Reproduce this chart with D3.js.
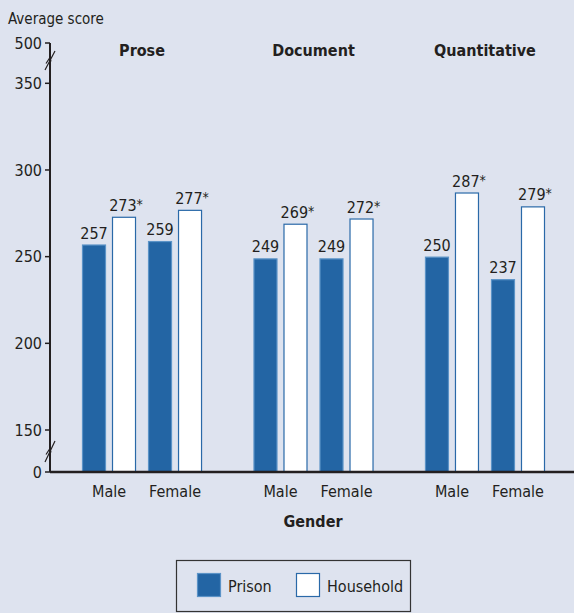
<!DOCTYPE html>
<html>
<head>
<meta charset="utf-8">
<script src="https://cdn.jsdelivr.net/npm/d3@7"></script>
<style>
  html, body { margin: 0; padding: 0; background: #dee3ef; }
  svg { display: block; }
  text { font-family: "Liberation Sans Narrow", "DejaVu Sans Condensed", sans-serif; fill: #231f20; }
</style>
</head>
<body>
<svg id="chart" width="574" height="613"></svg>
<script>
const topics = ["Prose", "Document", "Quantitative"];
const genders = ["Male", "Female"];
const series = ["Prison", "Household"];
// values per topic, [Male, Female]
const prisonScores = {Prose: [257, 259], Document: [249, 249], Quantitative: [250, 237]};
const householdScores = {Prose: [273, 277], Document: [269, 272], Quantitative: [287, 279]};
const significant = ["Household"]; // starred series
const yTicks = [0, 150, 200, 250, 300, 350, 500];

const colors = {Prison: "#2365a4", Household: "#ffffff"};
const strokes = {Prison: "#5b93c7", Household: "#2a69a8"};

const svg = d3.select("#chart");

// broken axis: 0 | 150..350 | 500
const y = d3.scaleLinear()
  .domain([0, 150, 350, 500])
  .range([472, 430, 83.3, 43]);

const x = d3.scaleBand().domain(topics).range([82, 545]).paddingInner(0.3).paddingOuter(0);
const xg = d3.scaleBand().domain(genders).range([0, x.bandwidth()]).paddingInner(12 / 66);
const xs = d3.scaleBand().domain(series).range([0, xg.bandwidth()]).paddingInner(0.2);

const rows = [];
topics.forEach(t => genders.forEach((g, gi) => {
  rows.push({topic: t, gender: g, series: "Prison", value: prisonScores[t][gi]});
  rows.push({topic: t, gender: g, series: "Household", value: householdScores[t][gi]});
}));

const bx = d => x(d.topic) + xg(d.gender) + xs(d.series);

// bars
svg.append("g").selectAll("rect")
  .data(rows)
  .join("rect")
    .attr("x", d => bx(d) + 0.5)
    .attr("y", d => y(d.value) + 0.5)
    .attr("width", xs.bandwidth() - 1)
    .attr("height", d => y(0) - y(d.value) - 0.5)
    .attr("fill", d => colors[d.series])
    .attr("stroke", d => strokes[d.series])
    .attr("stroke-width", 1.2);

// value labels
const lbl = svg.append("g").selectAll("text")
  .data(rows)
  .join("text")
    .attr("x", d => bx(d) + xs.bandwidth() / 2 + (significant.includes(d.series) ? 2 : 0))
    .attr("y", d => y(d.value) - 6)
    .attr("text-anchor", "middle")
    .attr("font-size", 16);
lbl.append("tspan").text(d => d.value);
lbl.filter(d => significant.includes(d.series))
  .append("tspan").attr("font-size", 14).attr("dy", -2).text("*");

// y axis
const axis = svg.append("g").attr("transform", "translate(50,0)");
axis.append("line").attr("x1", 0).attr("x2", 0).attr("y1", y(500)).attr("y2", y(0))
  .attr("stroke", "#231f20").attr("stroke-width", 2);
axis.append("line").attr("x1", 0).attr("x2", 524).attr("y1", y(0)).attr("y2", y(0))
  .attr("stroke", "#231f20").attr("stroke-width", 2.5);
const tk = axis.selectAll("g.tick").data(yTicks).join("g").attr("class", "tick")
  .attr("transform", d => `translate(0,${y(d)})`);
tk.append("line").attr("x1", -5).attr("x2", 0).attr("stroke", "#231f20").attr("stroke-width", 1.5);
tk.append("text").attr("x", -8).attr("dy", "0.35em").attr("text-anchor", "end")
  .attr("font-size", 16).text(d => d);

// axis break marks
[[51, 70], [441, 462]].forEach(([a, b]) => {
  const m = (a + b) / 2;
  axis.append("path")
    .attr("d", `M-5,${b} L5,${a} M-4,${m + 3} L0,${m - 3} L1,${m + 1}`)
    .attr("stroke", "#231f20").attr("stroke-width", 1.2).attr("fill", "none");
});

svg.append("text").attr("x", 8).attr("y", 24).attr("font-size", 15).text("Average score");

// topic headers
svg.append("g").selectAll("text").data(topics).join("text")
  .attr("x", d => x(d) + x.bandwidth() / 2)
  .attr("y", 56)
  .attr("text-anchor", "middle")
  .attr("font-size", 16)
  .attr("font-weight", "bold")
  .text(d => d);

// gender labels
const gl = [];
topics.forEach(t => genders.forEach(g => gl.push({t, g})));
svg.append("g").selectAll("text").data(gl).join("text")
  .attr("x", d => x(d.t) + xg(d.g) + xg.bandwidth() / 2)
  .attr("y", 497)
  .attr("text-anchor", "middle")
  .attr("font-size", 16)
  .text(d => d.g);

svg.append("text").attr("x", 313).attr("y", 527).attr("text-anchor", "middle")
  .attr("font-size", 16).attr("font-weight", "bold").text("Gender");

// legend
const leg = svg.append("g");
leg.append("rect").attr("x", 176.5).attr("y", 560.5).attr("width", 234).attr("height", 51)
  .attr("fill", "none").attr("stroke", "#333").attr("stroke-width", 1.2);
const li = leg.selectAll("g.item").data(series).join("g").attr("class", "item")
  .attr("transform", (d, i) => `translate(${i ? 296 : 197},573)`);
li.append("rect").attr("x", 0.5).attr("y", 0.5).attr("width", 23).attr("height", 23)
  .attr("fill", d => colors[d]).attr("stroke", d => strokes[d]).attr("stroke-width", 1.2);
li.append("text").attr("x", 31).attr("y", 19).attr("font-size", 16).text(d => d);
</script>
</body>
</html>
